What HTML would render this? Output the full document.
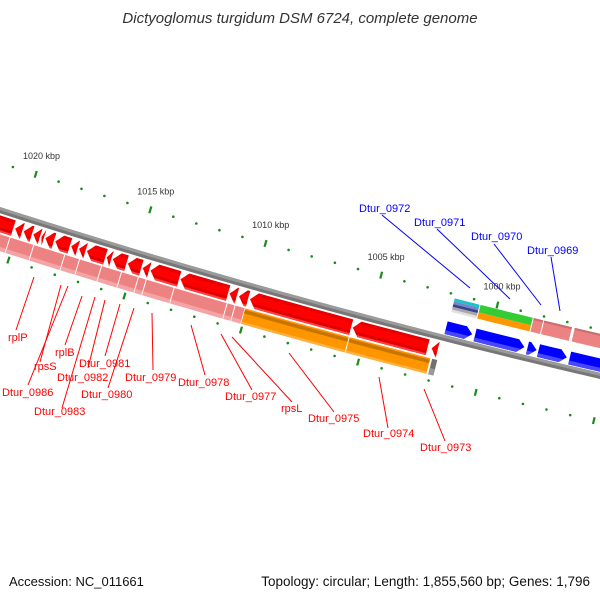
<!DOCTYPE html>
<html><head><meta charset="utf-8"><style>
html,body{margin:0;padding:0;background:#fff;}
svg{display:block;font-family:"Liberation Sans",sans-serif;}
</style></head><body>
<svg id="map" width="600" height="600" viewBox="0 0 600 600">
<rect width="600" height="600" fill="#fff"/>
<text x="300" y="23" text-anchor="middle" font-size="15" font-style="italic" fill="#333">Dictyoglomus turgidum DSM 6724, complete genome</text>
<g id="ticks"></g>
<g id="feat"></g>
<g id="labels"></g>
<text x="9" y="586" font-size="13" fill="#111">Accession: NC_011661</text>
<text x="590" y="586" text-anchor="end" font-size="13.5" fill="#111">Topology: circular; Length: 1,855,560 bp; Genes: 1,796</text>
</svg>
<script>
// data (kbp)
const majorTicks = [1020, 1015, 1010, 1005, 1000, 995];
const majorLabels = ["1020 kbp", "1015 kbp", "1010 kbp", "1005 kbp", "1000 kbp", "995 kbp"];
const minorTicks = [1022,1021,1019,1018,1017,1016,1014,1013,1012,1011,1009,1008,1007,1006,1004,1003,1002,1001,999,998,997,996,994];
const redStarts = [1021.5,1020.15,1019.78,1019.36,1019.01,1018.84,1018.41,1017.72,1017.38,1017.04,1016.18,1015.92,1015.27,1014.63,1014.29,1013.0,1010.89,1010.48,1010.01,1005.6,1002.23];
const redEnds   = [1020.19,1019.80,1019.38,1019.03,1018.86,1018.43,1017.74,1017.40,1017.06,1016.20,1015.94,1015.29,1014.65,1014.31,1013.02,1010.91,1010.53,1010.05,1005.63,1002.36,1001.93];
const pinkStarts = [1021.5,1020.22,1019.19,1017.85,1017.21,1016.26,1015.40,1014.67,1014.33,1013.13,1010.85,1010.51];
const pinkEnds   = [1020.22,1019.19,1017.85,1017.21,1016.26,1015.40,1014.67,1014.33,1013.13,1010.85,1010.51,1010.08];
const orangeStarts = [1010.09,1005.62];
const orangeEnds   = [1005.62,1002.14];
const grayStarts = [1002.10];
const grayEnds   = [1001.84];
const blueStarts = [1001.86,1000.62,998.38,997.91,996.58];
const blueEnds   = [1000.70,998.47,997.95,996.66,994.35];
const stripeStarts = [1001.81];
const stripeEnds   = [1000.70];
const greenStarts = [1000.70];
const greenEnds   = [998.42];
const pinkRStarts = [998.42,997.97,996.66];
const pinkREnds   = [997.97,996.74,994.5];

const NS='http://www.w3.org/2000/svg';
const R=7400, PHI0=Math.atan2(0.964,-0.266);
const CX=300+0.266*R, CY=300-0.964*R;
function sOf(k){return 192.8-(k-1000)*24.14;}
function pt(s,d){const p=PHI0-s/R, r=R+d;return [CX+r*Math.cos(p), CY+r*Math.sin(p)];}
function P(a){return a.map(v=>v[0].toFixed(2)+','+v[1].toFixed(2)).join(' ');}
function mk(tag,parent,attrs){const e=document.createElementNS(NS,tag);for(const k in attrs)e.setAttribute(k,attrs[k]);parent.appendChild(e);return e;}

function shape(kA,kB,d1,d2,dir,e1,e2){
  let sL=Math.min(sOf(kA),sOf(kB))+0.5, sR=Math.max(sOf(kA),sOf(kB))-0.5;
  const h=Math.min(7,sR-sL), hw=(d2-d1)/2, dm=(d1+d2)/2;
  const L=d=>dir<0?sL+h*Math.abs(d-dm)/hw:sL;
  const Rr=d=>dir>0?sR-h*Math.abs(d-dm)/hw:sR;
  const ds=[e1]; if(dm>e1&&dm<e2)ds.push(dm); ds.push(e2);
  const pts=[];
  const n=Math.max(2,Math.ceil((sR-sL)/25));
  for(let i=0;i<=n;i++){const s=L(e1)+(Rr(e1)-L(e1))*i/n;pts.push(pt(s,e1));}
  ds.slice(1).forEach(d=>pts.push(pt(Rr(d),d)));
  for(let i=n-1;i>=0;i--){const s=L(e2)+(Rr(e2)-L(e2))*i/n;pts.push(pt(s,e2));}
  ds.slice(0,-1).reverse().slice(0,ds.length-2).forEach(d=>pts.push(pt(L(d),d)));
  return P(pts);
}
const feat=document.getElementById('feat');
function track(starts,ends,d1,d2,dir,bands,name){
  starts.forEach((a,i)=>{
    const g=mk('g',feat,{});
    
    
    bands.forEach(b=>{
      const e1=d1+(d2-d1)*b[0], e2=d1+(d2-d1)*b[1];
      mk('polygon',g,{points:shape(a,ends[i],d1,d2,dir,e1,e2),fill:b[2]});
    });
  });
}
(function(){
  const g=mk('g',feat,{});
  
  
  const up=[],dn=[],mid=[];
  for(let s=-420;s<=420;s+=20){up.push(pt(s,-3));mid.push(pt(s,0));dn.push(pt(s,3));}
  mk('polygon',g,{points:P(up.concat(dn.slice().reverse())),fill:'#777'});
  mk('polygon',g,{points:P(up.concat(mid.slice().reverse())),fill:'#9a9a9a'});
})();
track(redStarts,redEnds,5,21,-1,[[0,1,'#ff0000'],[0,0.2,'#e80000'],[0.7,1,'#e00000'],[0.88,1,'#ff4040']],'red-gene');
track(pinkStarts,pinkEnds,23,39,0,[[0,1,'#ec8282'],[0.75,1,'#f4a4a4']],'pink-feature');
track(orangeStarts,orangeEnds,23,39,0,[[0,1,'#ff9600'],[0.1,0.32,'#c87400'],[0.85,1,'#ffb040']],'orange-feature');
track(grayStarts,grayEnds,23,39,0,[[0,1,'#707070'],[0.6,1,'#999']],'gray-feature');
track(blueStarts,blueEnds,-17,-4,1,[[0,1,'#0000ff'],[0.7,1,'#4848ff']],'blue-gene');
track(stripeStarts,stripeEnds,-41,-27,0,[[0,0.22,'#20c0c8'],[0.22,0.42,'#6a8ac8'],[0.42,0.62,'#404090'],[0.62,0.82,'#a8a8a8'],[0.82,1,'#e0e0e0']],'stripe-feature');
track(greenStarts,greenEnds,-41,-27,0,[[0,0.55,'#33cc33'],[0.55,1,'#ff9600']],'green-feature');
track(pinkRStarts,pinkREnds,-41,-27,0,[[0,1,'#ec8282'],[0,0.15,'#c87070']],'pink-right-feature');

const tg=document.getElementById('ticks');
majorTicks.forEach((k,i)=>{
  const s=sOf(k);
  [-45,45].forEach(d=>{
    const a=pt(s,d-3.5),b=pt(s,d+3.5);
    const l=mk('line',tg,{x1:a[0],y1:a[1],x2:b[0],y2:b[1],stroke:'#1a8a1a','stroke-width':2.2});
    
    
  });
  const c=pt(s,-64);
  const t=mk('text',tg,{x:c[0].toFixed(1),y:(c[1]+3).toFixed(1),'text-anchor':'middle','font-size':9,fill:'#333'});
  t.textContent=majorLabels[i];
  
  
});
minorTicks.forEach(k=>{
  const s=sOf(k);
  [-45,45].forEach(d=>{
    const c=pt(s,d);
    const r=mk('circle',tg,{cx:c[0].toFixed(1),cy:c[1].toFixed(1),r:1.3,fill:'#1a8a1a'});
    
    
  });
});

const labNames=["rplP","rpsS","Dtur_0986","rplB","Dtur_0983","Dtur_0982","Dtur_0981","Dtur_0980","Dtur_0979","Dtur_0978","Dtur_0977","rpsL","Dtur_0975","Dtur_0974","Dtur_0973","Dtur_0972","Dtur_0971","Dtur_0970","Dtur_0969"];
const labX=[8,34,2,55,34,57,79,81,125,178,225,281,308,363,420,359,414,471,527];
const labY=[341,370,396,356,415,381,367,398,381,386,400,412,422,437,451,212,226,240,254];
const lines=[[34,277,16,330],[61,285,40,362],[68,286,28,385],[82,296,65,345],[95,297,62,408],[105,300,88,368],[120,304,105,356],[134,308,108,388],[152,313,153,370],[191,325,205,375],[221,334,252,390],[232,337,292,402],[289,353,334,412],[379,377,388,428],[424,389,445,441],[382,215,470,288],[437,229,510,299],[494,244,541,305],[551,257,560,311]];
const lg=document.getElementById('labels');
labNames.forEach((n,i)=>{
  const col=i>=15?'#0000ff':'#ff0000';
  const L=lines[i];
  const l=mk('line',lg,{x1:L[0],y1:L[1],x2:L[2],y2:L[3],stroke:col,'stroke-width':1});
  
  
  const t=mk('text',lg,{x:labX[i],y:labY[i],'font-size':11,fill:col});
  t.textContent=n;
  
  
});
</script>
</body></html>
